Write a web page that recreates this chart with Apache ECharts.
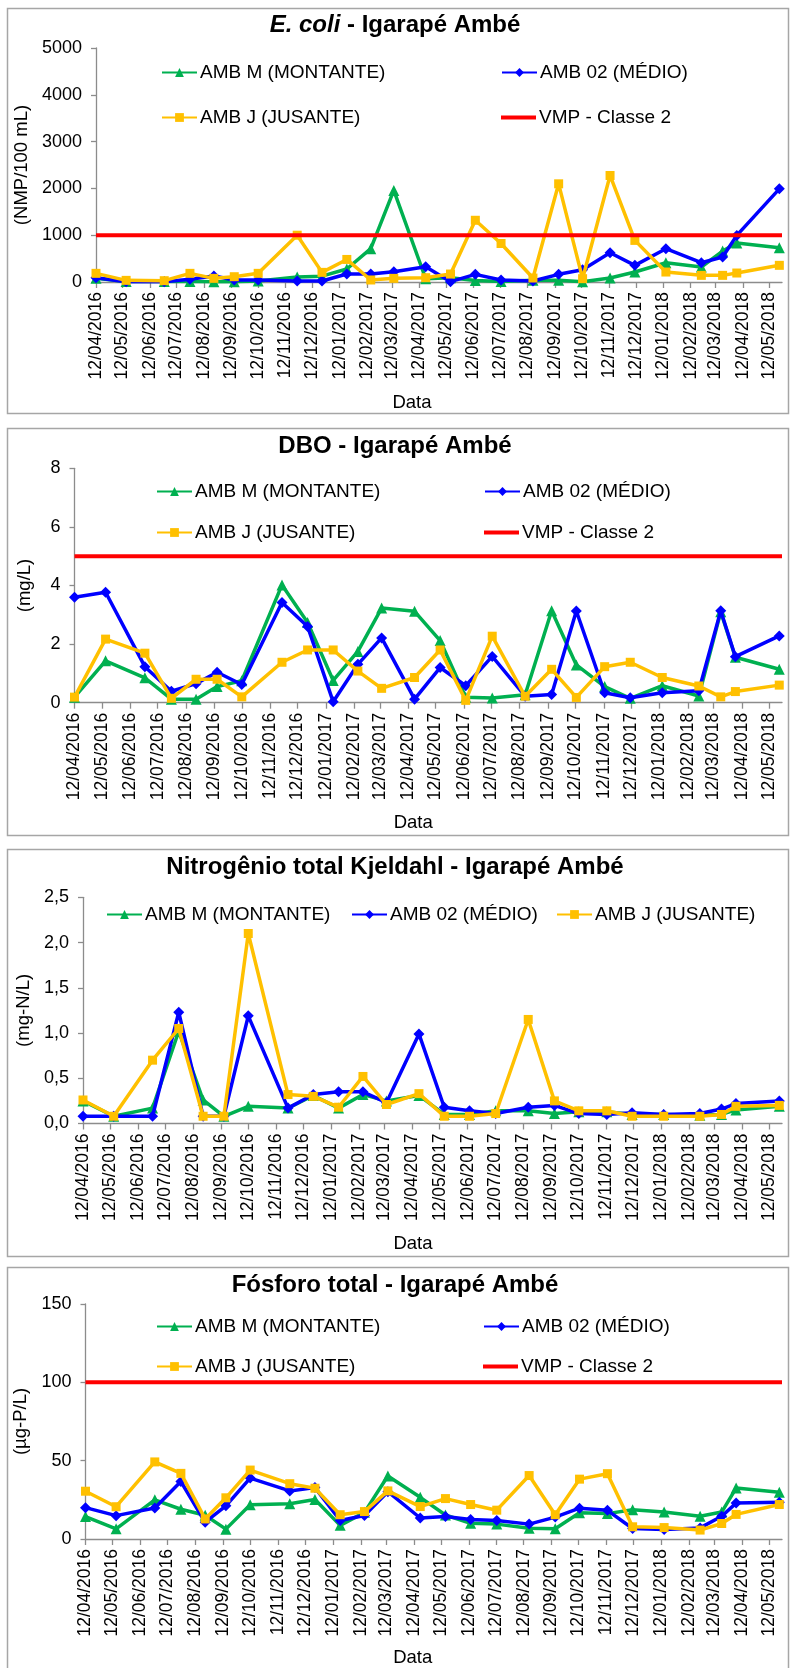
<!DOCTYPE html>
<html>
<head>
<meta charset="utf-8">
<title>Igarapé Ambé</title>
<script src="https://cdn.jsdelivr.net/npm/echarts@6/dist/echarts.min.js"></script>
<style>
  html, body { margin: 0; padding: 0; background: #fff; }
  #chart { width: 790px; height: 1668px; }
</style>
</head>
<body>
<div id="chart"></div>
<script>
// Sampling dates (shared by the three stations)
const SAMPLE_DATES = ['2016-04-12','2016-05-16','2016-06-28','2016-07-27','2016-08-23','2016-09-15',
  '2016-10-12','2016-11-25','2016-12-23','2017-01-20','2017-02-16','2017-03-14','2017-04-19',
  '2017-05-17','2017-06-14','2017-07-13','2017-08-18','2017-09-16','2017-10-13','2017-11-13',
  '2017-12-11','2018-01-15','2018-02-24','2018-03-20','2018-04-05','2018-05-23'];
const AXIS_START = '2016-04-12';
const AXIS_END = '2018-05-26';

// Monthly tick labels on the date axis
const TICK_LABELS = ['12/04/2016','12/05/2016','12/06/2016','12/07/2016','12/08/2016','12/09/2016',
  '12/10/2016','12/11/2016','12/12/2016','12/01/2017','12/02/2017','12/03/2017','12/04/2017',
  '12/05/2017','12/06/2017','12/07/2017','12/08/2017','12/09/2017','12/10/2017','12/11/2017',
  '12/12/2017','12/01/2018','12/02/2018','12/03/2018','12/04/2018','12/05/2018'];

const SERIES_NAMES = ['AMB M (MONTANTE)', 'AMB 02 (MÉDIO)', 'AMB J (JUSANTE)', 'VMP - Classe 2'];

// E. coli (NMP/100 mL)
const ECOLI_M  = [80, 10, 10, 10, 7, 5, 20, 107, 125, 277, 713, 1957, 70, 90, 30, 10, 35, 35, 5, 85, 213, 412, 320, 661, 832, 733];
const ECOLI_02 = [92, 5, 5, 57, 128, 43, 43, 21, 21, 170, 170, 220, 326, 7, 163, 43, 21, 164, 263, 626, 356, 711, 412, 533, 996, 1991];
const ECOLI_J  = [185, 35, 28, 185, 78, 113, 185, 1000, 206, 482, 43, 78, 92, 170, 1319, 823, 85, 2098, 71, 2276, 889, 213, 142, 142, 192, 356];
const ECOLI_VMP = 1000;

// DBO (mg/L)
const DBO_M  = [0.19, 1.43, 0.85, 0.12, 0.12, 0.55, 0.75, 4.02, 2.74, 0.76, 1.75, 3.23, 3.12, 2.12, 0.19, 0.16, 0.27, 3.14, 1.29, 0.55, 0.15, 0.58, 0.23, 3.1, 1.55, 1.14];
const DBO_02 = [3.6, 3.77, 1.23, 0.39, 0.65, 1.04, 0.62, 3.42, 2.6, 0.03, 1.31, 2.21, 0.12, 1.2, 0.58, 1.58, 0.22, 0.28, 3.13, 0.34, 0.17, 0.34, 0.41, 3.14, 1.57, 2.28];
const DBO_J  = [0.19, 2.17, 1.69, 0.15, 0.8, 0.8, 0.2, 1.38, 1.8, 1.8, 1.08, 0.49, 0.86, 1.8, 0.08, 2.27, 0.22, 1.14, 0.18, 1.23, 1.38, 0.86, 0.57, 0.2, 0.38, 0.6];
const DBO_VMP = 5;

// Nitrogênio total Kjeldahl (mg-N/L)
const NTK_M  = [0.25, 0.08, 0.17, 1.02, 0.26, 0.08, 0.19, 0.17, 0.31, 0.17, 0.32, 0.25, 0.31, 0.1, 0.1, 0.14, 0.14, 0.11, 0.13, 0.13, 0.1, 0.1, 0.09, 0.1, 0.15, 0.19];
const NTK_02 = [0.08, 0.08, 0.08, 1.23, 0.08, 0.08, 1.19, 0.17, 0.32, 0.35, 0.35, 0.23, 0.99, 0.18, 0.14, 0.11, 0.18, 0.2, 0.11, 0.1, 0.12, 0.1, 0.11, 0.16, 0.22, 0.25];
const NTK_J  = [0.26, 0.08, 0.7, 1.05, 0.08, 0.08, 2.1, 0.32, 0.3, 0.18, 0.52, 0.21, 0.33, 0.08, 0.08, 0.11, 1.15, 0.25, 0.14, 0.14, 0.08, 0.08, 0.08, 0.1, 0.19, 0.2];

// Fósforo total (µg-P/L)
const PT_M  = [14.3, 6.5, 25, 19, 15.2, 6.3, 21.8, 22.5, 25.2, 8.7, 17, 40.2, 26.6, 15.3, 10, 9.5, 6.8, 6.5, 16.8, 16.2, 18.7, 17.2, 14.5, 17.2, 32.5, 29.8];
const PT_02 = [20, 14.9, 19.8, 36.7, 10.7, 21.2, 38.9, 30.7, 32.8, 11.8, 15, 30.2, 13.4, 14.4, 12.5, 11.8, 9.5, 14, 19.7, 18.3, 6.7, 6.1, 7.1, 14.5, 22.9, 23.5];
const PT_J  = [30.5, 20.6, 49.2, 41.9, 12.8, 26.3, 44, 35.3, 32.4, 15.5, 17.5, 30.7, 20.7, 25.8, 22, 18.4, 40.5, 15.5, 38.2, 41.7, 7.8, 7.3, 5.7, 9.9, 15.7, 22];
const PT_VMP = 100;

// ---------------------------------------------------------------------------
const FONT = "'Liberation Sans', Arial, Helvetica, sans-serif";
const COLORS = ['#00B050', '#0000FF', '#FFC000', '#FF0000'];
const SYMBOLS = ['triangle', 'diamond', 'rect'];
const SYMBOL_SIZES = [11, 11, 9];

const toTime = s => Date.parse(s + 'T00:00:00Z');
const tickTime = lbl => { const p = lbl.split('/'); return Date.UTC(+p[2], +p[1] - 1, +p[0]); };
const X_MIN = toTime(AXIS_START);
const X_MAX = toTime(AXIS_END);
const SAMPLE_TIMES = SAMPLE_DATES.map(toTime);
const TICK_TIMES = TICK_LABELS.map(tickTime);
const pad2 = n => (n < 10 ? '0' : '') + n;
const fmtDate = v => { const d = new Date(v); return pad2(d.getUTCDate()) + '/' + pad2(d.getUTCMonth() + 1) + '/' + d.getUTCFullYear(); };

const PANELS = [
  { title: '{i|E. coli} - Igarapé Ambé', titleCx: 408, titleCy: 26, frame: [8, 413],
    grid: { left: 96, top: 48, height: 234 }, yMax: 5000, yInterval: 1000, yFmt: v => String(v),
    yName: '(NMP/100 mL)', yNameGap: 62, dataGap: 111, dataPad: 54,
    values: [ECOLI_M, ECOLI_02, ECOLI_J], vmp: ECOLI_VMP,
    legend: [[161, 73], [501, 73], [161, 118], [501, 118]] },
  { title: 'DBO - Igarapé Ambé', titleCx: 398, titleCy: 447, frame: [428, 835],
    grid: { left: 74.5, top: 468.3, height: 234.4 }, yMax: 8, yInterval: 2, yFmt: v => String(v),
    yName: '(mg/L)', yNameGap: 40, dataGap: 111, dataPad: 30,
    values: [DBO_M, DBO_02, DBO_J], vmp: DBO_VMP,
    legend: [[156, 492], [484, 492], [156, 533], [484, 533]] },
  { title: 'Nitrogênio total Kjeldahl - Igarapé Ambé', titleCx: 421, titleCy: 868, frame: [849, 1256],
    grid: { left: 83, top: 897.3, height: 226.2 }, yMax: 2.5, yInterval: 0.5, yFmt: v => v.toFixed(1).replace('.', ','),
    yName: '(mg-N/L)', yNameGap: 48, dataGap: 111, dataPad: 39,
    values: [NTK_M, NTK_02, NTK_J], vmp: null,
    legend: [[106, 915], [351, 915], [556, 915]] },
  { title: 'Fósforo total - Igarapé Ambé', titleCx: 414, titleCy: 1286, frame: [1267, 1690],
    grid: { left: 85.5, top: 1304, height: 238.3 }, yMax: 150, yInterval: 50, yFmt: v => String(v),
    yName: '(µg-P/L)', yNameGap: 50, dataGap: 109, dataPad: 42,
    values: [PT_M, PT_02, PT_J], vmp: PT_VMP,
    legend: [[156, 1327], [483, 1327], [156, 1367], [483, 1367]] }
];

const option = {
  backgroundColor: '#ffffff',
  animation: false,
  textStyle: { fontFamily: FONT },
  title: [], grid: [], xAxis: [], yAxis: [], series: [], legend: [], graphic: []
};

const AXIS_GRAY = '#8c8c8c';

PANELS.forEach((p, i) => {
  // frame around each chart
  option.graphic.push({
    type: 'rect', silent: true, z: -10,
    shape: { x: 7.5, y: p.frame[0] + 0.5, width: 781, height: p.frame[1] - p.frame[0] },
    style: { fill: 'none', stroke: '#a6a6a6', lineWidth: 1.5 }
  });

  const shift = Math.round((p.titleCx - 395) * 2);
  option.title.push({
    text: p.title, left: 'center', top: p.titleCy - 13,
    padding: shift >= 0 ? [0, 0, 0, shift] : [0, -shift, 0, 0],
    textStyle: { fontFamily: FONT, fontSize: 24, fontWeight: 'bold', color: '#000',
      rich: { i: { fontFamily: FONT, fontSize: 24, fontWeight: 'bold', fontStyle: 'italic', color: '#000' } } }
  });

  option.grid.push({ left: p.grid.left, top: p.grid.top, right: 8, height: p.grid.height, containLabel: false });

  option.xAxis.push({
    type: 'value', gridIndex: i, min: X_MIN, max: X_MAX,
    name: 'Data', nameLocation: 'middle', nameGap: p.dataGap,
    nameTextStyle: { fontFamily: FONT, fontSize: 18.5, color: '#000', padding: [0, p.dataPad, 0, 0] },
    axisLine: { show: true, onZero: false, lineStyle: { color: AXIS_GRAY, width: 1.3 } },
    axisTick: { show: true, inside: false, length: 6, customValues: TICK_TIMES, lineStyle: { color: AXIS_GRAY, width: 1.3 } },
    axisLabel: { show: true, rotate: 90, margin: 10, customValues: TICK_TIMES, formatter: v => fmtDate(v),
      fontFamily: FONT, fontSize: 17.5, color: '#000' },
    splitLine: { show: false }
  });

  option.yAxis.push({
    type: 'value', gridIndex: i, min: 0, max: p.yMax, interval: p.yInterval,
    name: p.yName, nameLocation: 'middle', nameRotate: 90, nameGap: p.yNameGap,
    nameTextStyle: { fontFamily: FONT, fontSize: 18.5, color: '#000' },
    axisLine: { show: true, lineStyle: { color: AXIS_GRAY, width: 1.3 } },
    axisTick: { show: true, inside: false, length: 5, lineStyle: { color: AXIS_GRAY, width: 1.3 } },
    axisLabel: { margin: 14, fontFamily: FONT, fontSize: 18, color: '#000', formatter: p.yFmt },
    splitLine: { show: false }
  });

  p.values.forEach((vals, k) => {
    option.series.push({
      name: SERIES_NAMES[k], type: 'line', xAxisIndex: i, yAxisIndex: i,
      data: SAMPLE_TIMES.map((t, n) => [t, vals[n]]),
      symbol: SYMBOLS[k], symbolSize: SYMBOL_SIZES[k], showSymbol: true,
      lineStyle: { color: COLORS[k], width: 3.5 },
      itemStyle: { color: COLORS[k], borderWidth: 0 },
      emphasis: { disabled: true }, z: 2 + k
    });
  });
  if (p.vmp !== null) {
    option.series.push({
      name: SERIES_NAMES[3], type: 'line', xAxisIndex: i, yAxisIndex: i,
      data: [[X_MIN, p.vmp], [X_MAX, p.vmp]],
      symbol: 'none', lineStyle: { color: COLORS[3], width: 4 },
      itemStyle: { color: COLORS[3] }, emphasis: { disabled: true }, z: 6
    });
  }

  p.legend.forEach((pos, k) => {
    const isLimit = k === 3;
    option.legend.push({
      data: [SERIES_NAMES[k]], left: pos[0], top: pos[1] - 10, padding: 0,
      itemWidth: 35, itemHeight: isLimit ? 4 : 11, itemGap: 0, selectedMode: false,
      icon: isLimit ? 'rect' : undefined,
      textStyle: { fontFamily: FONT, fontSize: 19, color: '#000', padding: [0, 0, 0, -2] }
    });
  });
});

const chart = echarts.init(document.getElementById('chart'), null, { renderer: 'canvas', width: 790, height: 1668 });
chart.setOption(option);
</script>
</body>
</html>
